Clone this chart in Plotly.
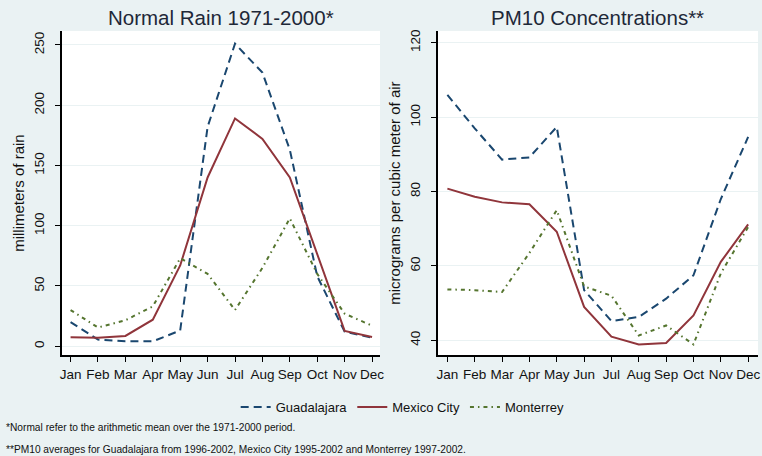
import plotly.graph_objects as go

months = ["Jan", "Feb", "Mar", "Apr", "May", "Jun", "Jul", "Aug", "Sep", "Oct", "Nov", "Dec"]

rain_gdl = [20, 5.5, 4, 4, 13, 182, 251, 227, 163, 58, 12, 7]
rain_mex = [7.5, 7, 8.5, 22, 67, 140, 189, 172, 140, 76, 12.7, 7.7]
rain_mty = [30, 15.5, 21.5, 33, 73, 60, 30, 65, 106, 60, 27, 17]

pm_gdl = [106, 97, 88.6, 89.2, 97.4, 53.5, 45.2, 46.3, 51.2, 57.5, 78, 94.7]
pm_mex = [80.8, 78.6, 77.1, 76.6, 69.2, 49, 41, 38.9, 39.3, 46.7, 61.1, 71.2]
pm_mty = [53.7, 53.5, 53, 63.5, 75, 54.5, 52, 41.3, 44, 38.9, 58, 70.5]

rain_ticks = [0, 50, 100, 150, 200, 250]
pm_ticks = [40, 60, 80, 100, 120]

NAVY = "#1a476f"
MAROON = "#90353b"
GREEN = "#55752f"
BG = "#eaf2f3"
FONT = "Liberation Sans, Arial, sans-serif"

series = [
    ("Guadalajara", NAVY, "8px,5px", rain_gdl, pm_gdl),
    ("Mexico City", MAROON, "solid", rain_mex, pm_mex),
    ("Monterrey", GREEN, "4px,4px,1.5px,4px", rain_mty, pm_mty),
]

fig = go.Figure()
for name, col, dash, r, p in series:
    fig.add_trace(go.Scatter(x=months, y=r, mode="lines", name=name,
                             line=dict(color=col, width=2, dash=dash),
                             xaxis="x", yaxis="y", showlegend=True))
    fig.add_trace(go.Scatter(x=months, y=p, mode="lines", name=name,
                             line=dict(color=col, width=2, dash=dash),
                             xaxis="x2", yaxis="y2", showlegend=False))

W, H = 762, 456
ydom = [1 - 355 / H, 1 - 30 / H]

axis_common = dict(showline=True, linecolor="black", linewidth=1.5,
                   ticks="outside", ticklen=5, tickwidth=1.2, tickcolor="black",
                   tickfont=dict(family=FONT, size=13.5, color="#111111"),
                   zeroline=False)

fig.update_layout(
    width=W, height=H,
    margin=dict(l=0, r=0, t=0, b=0),
    paper_bgcolor=BG, plot_bgcolor="white",
    font=dict(family=FONT, color="#111111"),
    xaxis=dict(domain=[60 / W, 381 / W], type="category", range=[-0.33, 11.29],
               showgrid=False, anchor="y", ticklabelstandoff=1, **axis_common),
    yaxis=dict(domain=ydom, range=[-7.5, 261.6], tickvals=rain_ticks,
               tickangle=-90, showgrid=True, gridcolor=BG, gridwidth=1,
               anchor="x", ticklabelstandoff=5,
               title=dict(text="millimeters of rain", font=dict(family=FONT, size=15),
                          standoff=4),
               **axis_common),
    xaxis2=dict(domain=[439 / W, 1.0], type="category", range=[-0.36, 11.36],
                showgrid=False, anchor="y2", ticklabelstandoff=1, **axis_common),
    yaxis2=dict(domain=ydom, range=[36, 123.2], tickvals=pm_ticks,
                tickangle=-90, showgrid=True, gridcolor=BG, gridwidth=1,
                anchor="x2", ticklabelstandoff=5,
                title=dict(text="micrograms per cubic meter of air",
                           font=dict(family=FONT, size=15), standoff=4),
                **axis_common),
    legend=dict(orientation="h", x=0.53, xanchor="center",
                y=1 - 407 / H, yanchor="middle",
                bgcolor="rgba(0,0,0,0)",
                font=dict(family=FONT, size=13, color="#111111")),
    showlegend=True,
)

fig.add_annotation(text="Normal Rain 1971-2000*", x=(60 + 381) / 2 / W, y=1 - 17 / H,
                   xref="paper", yref="paper", showarrow=False,
                   xanchor="center", yanchor="middle",
                   font=dict(family=FONT, size=20.5, color="#1e2838"))
fig.add_annotation(text="PM10 Concentrations**", x=(439 + 762) / 2 / W, y=1 - 17 / H,
                   xref="paper", yref="paper", showarrow=False,
                   xanchor="center", yanchor="middle",
                   font=dict(family=FONT, size=20.5, color="#1e2838"))
fig.add_annotation(text="*Normal refer to the arithmetic mean over the 1971-2000 period.",
                   x=2 / W, y=1 - 427 / H, xref="paper", yref="paper", showarrow=False,
                   xanchor="left", yanchor="middle",
                   font=dict(family=FONT, size=10.2, color="#111111"))
fig.add_annotation(text="**PM10 averages for Guadalajara from 1996-2002, Mexico City 1995-2002 and Monterrey 1997-2002.",
                   x=2 / W, y=1 - 449 / H, xref="paper", yref="paper", showarrow=False,
                   xanchor="left", yanchor="middle",
                   font=dict(family=FONT, size=10.2, color="#111111"))

fig.write_html("out.html", config={"displayModeBar": False},
               post_script="document.body.style.margin='0';document.body.style.overflow='hidden';")
